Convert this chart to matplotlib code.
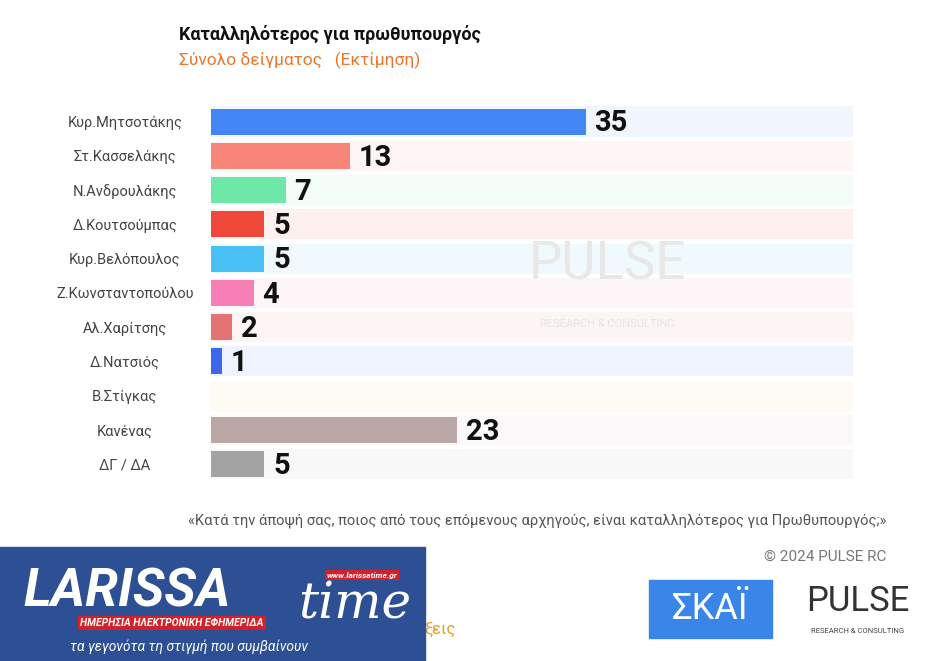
import matplotlib.pyplot as plt
from matplotlib.patches import Rectangle
from matplotlib.colors import to_rgb

plt.rcParams['font.family'] = ['Roboto', 'DejaVu Sans']

names = ["Κυρ.Μητσοτάκης", "Στ.Κασσελάκης", "Ν.Ανδρουλάκης", "Δ.Κουτσούμπας",
         "Κυρ.Βελόπουλος", "Ζ.Κωνσταντοπούλου", "Αλ.Χαρίτσης", "Δ.Νατσιός",
         "Β.Στίγκας", "Κανένας", "ΔΓ / ΔΑ"]
values = [35, 13, 7, 5, 5, 4, 2, 1, 0, 23, 5]
colors = ["#4285F4", "#F8857A", "#6DE8A8", "#F0473B", "#47C1F6", "#F77FB5",
          "#E57373", "#3D66EE", "#F5C77A", "#BBA8A6", "#A3A3A3"]
band_max = 60


def tint(c, a=0.08):
    r, g, b = to_rgb(c)
    return (1 - a + a * r, 1 - a + a * g, 1 - a + a * b)


fig = plt.figure(figsize=(9.46, 6.61), dpi=100)
ax = fig.add_axes([0.223, 0.272, 0.679, 0.570])
y = list(range(len(names)))
ax.barh(y, [band_max] * len(y), height=0.88, color=[tint(c) for c in colors])
ax.barh(y, values, height=0.76, color=colors)
for yi, v in zip(y, values):
    if v > 0:
        ax.text(v + 0.8, yi + 0.05, str(v), va="center", ha="left", fontsize=21,
                fontweight="bold", color="#111111")
ax.set_xlim(0, band_max)
ax.set_ylim(len(y) - 0.5, -0.5)
ax.set_yticks(y)
ax.set_yticklabels(names, fontsize=10.5, color="#444444", ha="center")
ax.tick_params(length=0, pad=62)
ax.set_xticks([])
for s in ax.spines.values():
    s.set_visible(False)

# watermark
ax.text(37, 4.2, "PULSE", fontsize=38, color="#E8E8E8", ha="center", va="center")
ax.text(37, 5.9, "RESEARCH & CONSULTING", fontsize=8, color="#E6E6E6", ha="center", va="center")

fig.text(0.189, 0.948, "Καταλληλότερος για πρωθυπουργός", fontsize=13,
         fontweight="bold", color="#111111", va="center")
fig.text(0.189, 0.908, "Σύνολο δείγματος   (Εκτίμηση)", fontsize=12.5,
         color="#E8782E", va="center")
fig.text(0.937, 0.212, "«Κατά την άποψή σας, ποιος από τους επόμενους αρχηγούς, είναι καταλληλότερος για Πρωθυπουργός;»",
         fontsize=10.6, color="#555555", ha="right", va="center")
fig.text(0.937, 0.158, "© 2024 PULSE RC", fontsize=11, color="#777777",
         ha="right", va="center")
fig.text(0.448, 0.048, "ξεις", fontsize=12, color="#E0A020", va="center")

# LARISSA time logo
fig.patches.append(Rectangle((0.0, 0.0), 0.449, 0.172, transform=fig.transFigure,
                             color="#2D4F93", zorder=5))
fig.text(0.025, 0.105, "LARISSA", fontsize=38, fontweight="bold", style="italic",
         color="white", va="center", zorder=6)
fig.text(0.315, 0.085, "time", fontsize=36, style="italic", color="white",
         va="center", zorder=6, family="DejaVu Serif")
fig.text(0.085, 0.058, "ΗΜΕΡΗΣΙΑ ΗΛΕΚΤΡΟΝΙΚΗ ΕΦΗΜΕΡΙΔΑ", fontsize=7.5,
         fontweight="bold", style="italic", color="white", va="center", zorder=7,
         bbox=dict(facecolor="#D52027", edgecolor="none", pad=1.5))
fig.text(0.345, 0.13, "www.larissatime.gr", fontsize=6, fontweight="bold",
         style="italic", color="white", va="center", zorder=7,
         bbox=dict(facecolor="#D52027", edgecolor="none", pad=1.2))
fig.text(0.2, 0.022, "τα γεγονότα τη στιγμή που συμβαίνουν", fontsize=10,
         style="italic", color="white", ha="center", va="center", zorder=6)

# SKAI / PULSE logos
fig.patches.append(Rectangle((0.686, 0.035), 0.13, 0.087, transform=fig.transFigure,
                             color="#3A86E8", zorder=5))
fig.text(0.751, 0.079, "ΣΚΑΪ", fontsize=26, color="white", ha="center",
         va="center", zorder=6)
fig.text(0.907, 0.09, "PULSE", fontsize=25, color="#333333", ha="center", va="center")
fig.text(0.907, 0.045, "RESEARCH & CONSULTING", fontsize=5.5, color="#444444",
         ha="center", va="center")

fig.savefig("out.png", dpi=100, facecolor="white")
